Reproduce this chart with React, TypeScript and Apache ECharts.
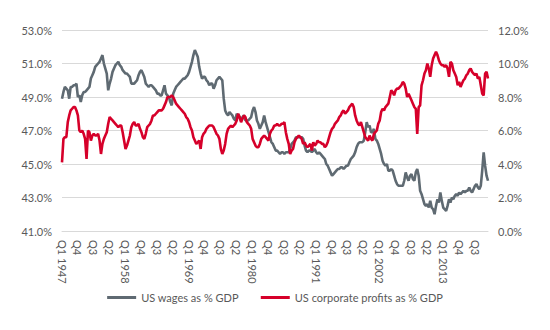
import React, { useEffect, useRef } from "react";
import * as echarts from "echarts";

const START_YEAR = 1947;
const SERIES_NAMES = ["US wages as % GDP", "US corporate profits as % GDP"];
const LEFT_TICKS = { min: 41, max: 53, interval: 2 };
const RIGHT_TICKS = { min: 0, max: 12, interval: 2 };

const wages: number[] = [
  48.9, 49.3, 49.6, 49.5, 49.4, 48.9, 49.6, 49.6, 49.7, 49.7,
  49.8, 49.0, 49.1, 48.7, 49.1, 49.3, 49.3, 49.4, 49.5, 49.6,
  50.1, 50.3, 50.5, 50.8, 50.9, 51.0, 51.1, 51.3, 51.5, 51.0,
  50.7, 50.4, 49.4, 49.8, 50.1, 50.5, 50.7, 50.9, 51.0, 51.1,
  50.9, 50.8, 50.6, 50.5, 50.4, 50.4, 50.3, 50.2, 49.8, 49.8,
  49.8, 49.9, 50.0, 50.3, 50.5, 50.6, 50.4, 50.2, 49.8, 49.7,
  49.6, 49.7, 49.7, 49.6, 49.5, 49.4, 49.2, 49.2, 49.1, 49.1,
  49.4, 49.7, 49.2, 49.1, 49.0, 48.7, 48.5, 49.2, 49.4, 49.6,
  49.7, 49.8, 49.9, 50.0, 50.1, 50.1, 50.2, 50.3, 50.5, 50.8,
  51.1, 51.5, 51.8, 51.6, 51.4, 50.8, 50.4, 50.1, 50.2, 50.2,
  50.0, 49.9, 49.7, 49.8, 49.8, 49.5, 49.7, 50.0, 50.1, 50.2,
  50.1, 50.0, 48.9, 48.2, 48.0, 47.9, 48.1, 48.0, 47.9, 47.7,
  47.6, 48.0, 47.9, 47.8, 47.6, 47.8, 47.9, 47.6, 47.6, 47.6,
  47.7, 47.8, 48.2, 48.4, 48.1, 47.6, 47.4, 47.1, 47.3, 47.5,
  47.9, 47.5, 47.2, 46.9, 46.6, 46.3, 46.2, 46.0, 45.8, 45.8,
  45.7, 45.6, 45.7, 45.7, 45.6, 45.7, 45.7, 45.7, 45.9, 46.2,
  46.3, 46.4, 46.6, 46.6, 46.6, 46.6, 46.6, 46.5, 46.1, 45.8,
  45.7, 45.8, 45.8, 45.7, 45.8, 45.9, 45.7, 45.6, 45.7, 45.6,
  45.5, 45.4, 45.3, 45.0, 44.9, 44.7, 44.5, 44.3, 44.4, 44.5,
  44.6, 44.7, 44.7, 44.8, 44.8, 44.7, 44.8, 44.9, 44.9, 45.1,
  45.3, 45.4, 45.5, 45.7, 46.0, 46.2, 46.3, 46.3, 46.3, 46.4,
  46.9, 47.5, 47.2, 47.3, 46.9, 46.9, 47.1, 46.5, 46.4, 46.2,
  45.9, 45.6, 45.2, 45.0, 44.9, 45.0, 44.6, 44.6, 44.7, 44.6,
  44.3, 44.0, 43.8, 43.7, 43.7, 43.7, 43.7, 44.0, 44.5, 44.2,
  44.0, 44.3, 44.4, 44.1, 44.0, 44.5, 44.7, 44.3, 43.4, 43.2,
  42.9, 42.6, 42.5, 42.6, 42.4, 42.8, 42.4, 42.3, 42.0, 42.5,
  42.9, 42.7, 43.3, 42.8, 42.4, 42.3, 42.2, 42.5, 42.9, 42.7,
  43.0, 42.9, 43.1, 43.2, 43.1, 43.3, 43.2, 43.3, 43.4, 43.3,
  43.4, 43.4, 43.6, 43.4, 43.3, 43.5, 43.7, 43.8, 43.6, 43.5,
  43.7, 44.6, 45.7, 44.9, 44.3, 44.0,
];

const profits: number[] = [
  4.1, 5.5, 5.6, 5.6, 6.5, 6.9, 7.2, 7.3, 7.4, 7.4,
  7.2, 6.9, 6.0, 5.9, 6.0, 5.8, 5.5, 4.3, 6.0, 5.9,
  5.4, 5.7, 5.8, 5.7, 5.7, 5.8, 5.4, 4.6, 5.2, 5.5,
  5.7, 5.9, 6.4, 6.8, 6.7, 6.6, 6.5, 6.4, 6.3, 6.2,
  6.3, 6.3, 5.9, 5.4, 4.9, 5.1, 5.4, 5.7, 6.2, 6.4,
  6.5, 6.3, 6.3, 6.4, 6.1, 5.9, 5.6, 5.5, 5.8, 6.2,
  6.3, 6.4, 6.6, 6.9, 6.9, 7.0, 7.1, 7.2, 7.2, 7.2,
  7.3, 7.5, 7.7, 8.0, 8.0, 8.0, 8.1, 8.0, 7.8, 7.6,
  7.5, 7.4, 7.3, 7.2, 7.1, 7.0, 6.8, 6.7, 6.5, 6.2,
  6.0, 5.6, 5.4, 5.2, 5.3, 5.4, 4.9, 5.6, 5.8, 5.9,
  6.1, 6.2, 6.3, 6.3, 6.3, 6.2, 6.0, 5.8, 5.7, 5.5,
  4.9, 4.6, 4.8, 5.2, 5.8, 6.1, 6.2, 6.3, 6.2, 6.3,
  6.4, 6.6, 7.0, 6.8, 6.5, 6.7, 6.9, 6.8, 6.5, 6.4,
  6.3, 6.1, 5.5, 5.3, 5.1, 5.0, 5.0, 5.2, 5.5, 5.6,
  5.7, 5.6, 5.5, 5.4, 5.8, 6.0, 6.1, 6.3, 6.3, 6.4,
  6.3, 6.3, 6.4, 6.4, 6.5, 5.9, 5.5, 5.2, 4.6, 4.8,
  4.9, 5.3, 5.5, 5.6, 5.7, 5.6, 5.5, 5.2, 5.3, 5.1,
  5.0, 5.1, 5.2, 4.8, 5.3, 5.1, 5.2, 5.4, 5.3, 5.3,
  5.2, 5.2, 5.0, 5.1, 5.3, 5.6, 5.9, 6.1, 6.2, 6.4,
  6.5, 6.6, 6.8, 6.9, 7.1, 7.2, 7.0, 7.1, 7.2, 7.4,
  7.5, 7.6, 7.4, 6.9, 6.6, 6.4, 6.3, 6.5, 6.2, 5.9,
  5.6, 5.5, 5.4, 5.7, 5.5, 5.4, 5.8, 5.9, 6.0, 6.4,
  6.6, 7.1, 7.3, 7.2, 7.4, 7.5, 7.6, 8.0, 8.4, 8.3,
  8.1, 8.4, 8.5, 8.5, 8.6, 8.7, 8.9, 8.8, 8.5, 8.0,
  8.2, 8.0, 7.8, 7.6, 7.4, 7.3, 5.8, 7.4, 7.5, 8.7,
  9.0, 9.4, 9.6, 10.0, 9.7, 9.2, 9.9, 10.3, 10.5, 10.7,
  10.5, 10.2, 10.0, 9.9, 9.9, 9.8, 9.9, 9.7, 9.2, 10.1,
  10.0, 9.6, 9.4, 9.2, 8.7, 8.9, 8.6, 8.8, 9.0, 9.1,
  9.3, 9.4, 9.6, 9.7, 9.5, 9.4, 9.3, 9.4, 9.1, 9.2,
  8.7, 8.2, 8.1, 9.4, 9.5, 9.1,
];

const quarters: string[] = wages.map((_, i) =>
  i % 4 === 0 ? `Q1 ${START_YEAR + i / 4}` : `Q${(i % 4) + 1}`
);

const FONT = "Lato, 'Open Sans', sans-serif";
const TEXT = "#595959";

export default function App() {
  const ref = useRef<HTMLDivElement>(null);
  useEffect(() => {
    if (!ref.current) return;
    const chart = echarts.init(ref.current, undefined, { renderer: "svg" });
    chart.setOption({
      animation: false,
      textStyle: { fontFamily: FONT },
      grid: { left: 62, right: 62, top: 30, bottom: 99 },
      legend: {
        bottom: 22,
        left: "center",
        icon: "rect",
        itemWidth: 29,
        itemHeight: 3,
        itemGap: 22,
        textStyle: { fontSize: 11, color: TEXT, fontFamily: FONT },
        data: SERIES_NAMES,
      },
      xAxis: {
        type: "category",
        data: quarters,
        boundaryGap: false,
        axisLine: { show: true, lineStyle: { color: "#d9d9d9" } },
        axisTick: { show: false },
        axisLabel: {
          interval: 10,
          rotate: -90,
          fontSize: 11,
          color: TEXT,
          margin: 9,
          fontFamily: FONT,
        },
        splitLine: { show: false },
      },
      yAxis: [
        {
          type: "value",
          ...LEFT_TICKS,
          axisLine: { show: false },
          axisTick: { show: false },
          axisLabel: {
            formatter: (v: number) => v.toFixed(1) + "%",
            fontSize: 11,
            color: TEXT,
            margin: 10,
            fontFamily: FONT,
          },
          splitLine: { lineStyle: { color: "#d9d9d9", width: 1 } },
        },
        {
          type: "value",
          ...RIGHT_TICKS,
          axisLine: { show: false },
          axisTick: { show: false },
          axisLabel: {
            formatter: (v: number) => v.toFixed(1) + "%",
            fontSize: 11,
            color: TEXT,
            margin: 10,
            fontFamily: FONT,
          },
          splitLine: { show: false },
        },
      ],
      series: [
        {
          name: SERIES_NAMES[0],
          type: "line",
          yAxisIndex: 0,
          data: wages,
          showSymbol: false,
          symbol: "none",
          lineStyle: { color: "#5f6a72", width: 2.6 },
          itemStyle: { color: "#5f6a72" },
          z: 2,
        },
        {
          name: SERIES_NAMES[1],
          type: "line",
          yAxisIndex: 1,
          data: profits,
          showSymbol: false,
          symbol: "none",
          lineStyle: { color: "#d6002a", width: 2.6 },
          itemStyle: { color: "#d6002a" },
          z: 3,
        },
      ],
    });
    return () => chart.dispose();
  }, []);
  return (
    <div
      ref={ref}
      style={{ position: "fixed", left: 0, top: 0, width: 550, height: 330, background: "#fff" }}
    />
  );
}
